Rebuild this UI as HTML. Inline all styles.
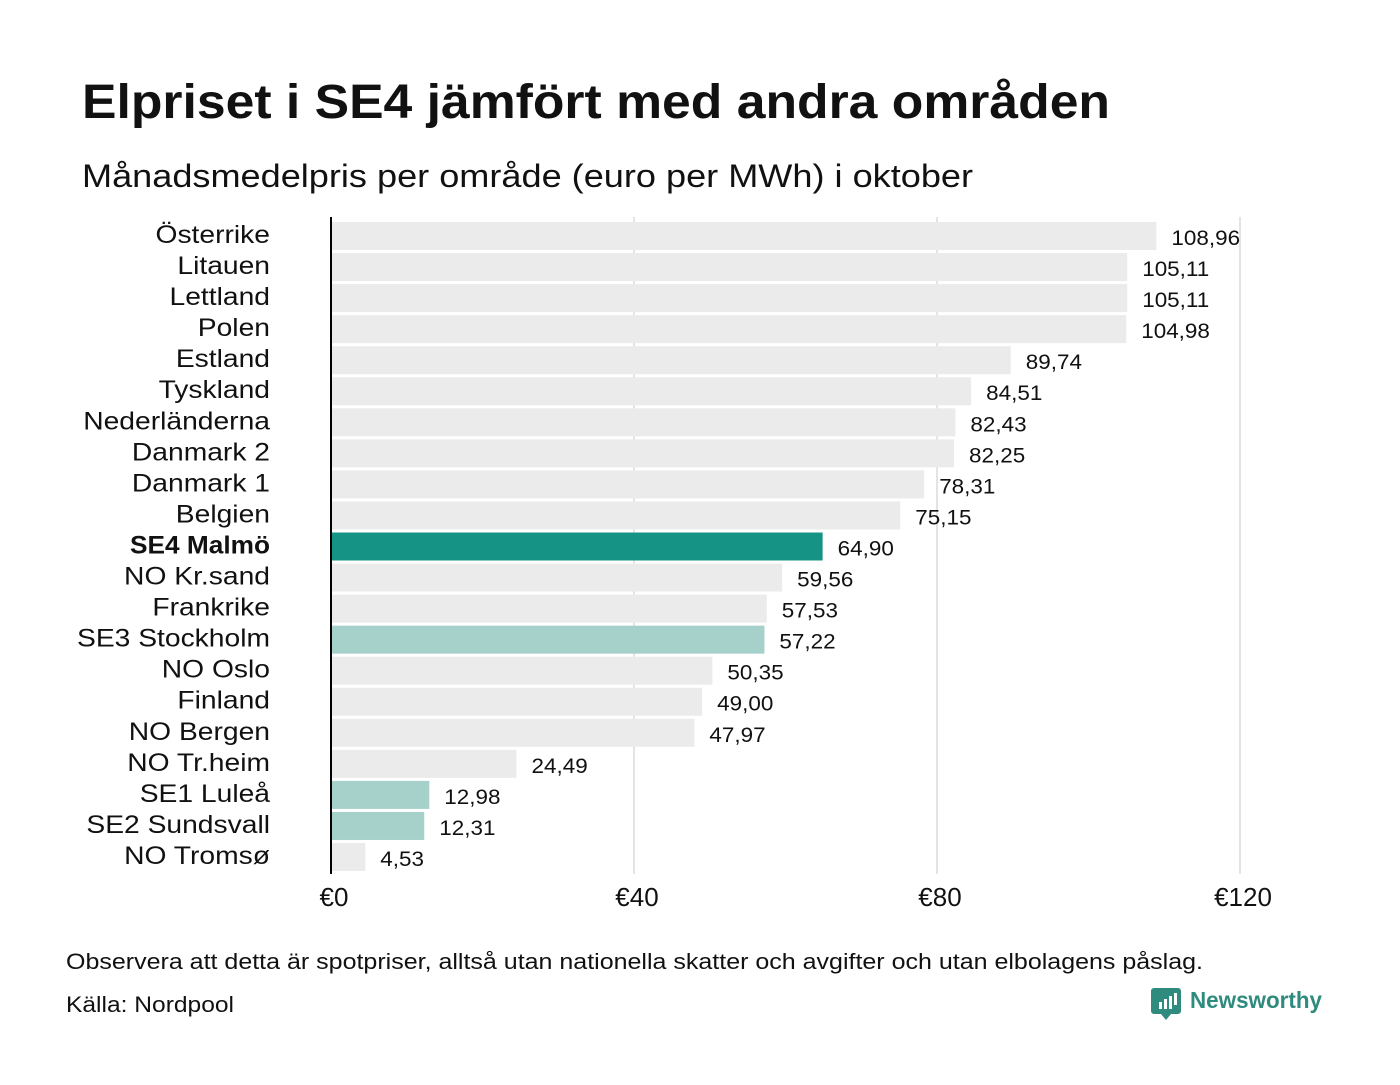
<!DOCTYPE html>
<html><head><meta charset="utf-8"><style>
body{margin:0;background:#fff;width:1400px;height:1080px;overflow:hidden;font-family:"Liberation Sans","DejaVu Sans",sans-serif;}
</style></head><body>
<svg width="1400" height="1080" xmlns="http://www.w3.org/2000/svg">
<text x="82" y="118" font-size="48" font-weight="bold" fill="#111" textLength="1028" lengthAdjust="spacingAndGlyphs">Elpriset i SE4 jämfört med andra områden</text>
<text x="82" y="187" font-size="32" fill="#111" textLength="891" lengthAdjust="spacingAndGlyphs">Månadsmedelpris per område (euro per MWh) i oktober</text>
<g id="grid"></g>
<g id="bars"></g>
<g id="labels"></g>
<line x1="331" y1="217" x2="331" y2="874" stroke="#000" stroke-width="2"/>
<g id="ticks"></g>
<text x="66" y="969" font-size="22" fill="#111" textLength="1137" lengthAdjust="spacingAndGlyphs">Observera att detta är spotpriser, alltså utan nationella skatter och avgifter och utan elbolagens påslag.</text>
<text x="66" y="1012" font-size="22" fill="#111" textLength="168" lengthAdjust="spacingAndGlyphs">Källa: Nordpool</text>
<g>
<path d="M1154 988 h24 a3 3 0 0 1 3 3 v20 a3 3 0 0 1 -3 3 h-7 l-5 6 l-5 -6 h-7 a3 3 0 0 1 -3 -3 v-20 a3 3 0 0 1 3 -3z" fill="#2e8b7e"/>
<rect x="1159" y="1002" width="3" height="7" fill="#fff"/><rect x="1164" y="999" width="3" height="10" fill="#fff"/><rect x="1169" y="996" width="3" height="13" fill="#fff"/><rect x="1174" y="993" width="3" height="12" fill="#fff"/>
<text x="1190" y="1008" font-size="23" font-weight="bold" fill="#2e8b7e" textLength="132" lengthAdjust="spacingAndGlyphs">Newsworthy</text>
</g>
</svg>
<script>
const categories=["Österrike","Litauen","Lettland","Polen","Estland","Tyskland","Nederländerna","Danmark  2","Danmark  1","Belgien","SE4 Malmö","NO Kr.sand","Frankrike","SE3  Stockholm","NO Oslo","Finland","NO Bergen","NO Tr.heim","SE1  Luleå","SE2  Sundsvall","NO Tromsø"];
const values=[108.96,105.11,105.11,104.98,89.74,84.51,82.43,82.25,78.31,75.15,64.90,59.56,57.53,57.22,50.35,49.00,47.97,24.49,12.98,12.31,4.53];
const tickValues=[0,40,80,120];
const tickLabels=["€0","€40","€80","€120"];
const NS="http://www.w3.org/2000/svg";
const x=v=>331+v*303/40;
const y=i=>222+i*31.05;
function mk(t,a,p){const e=document.createElementNS(NS,t);for(const k in a)e.setAttribute(k,a[k]);document.getElementById(p).appendChild(e);return e;}
tickValues.forEach((t,i)=>{
 if(t>0){const g=mk("line",{x1:x(t),x2:x(t),y1:217,y2:874,stroke:"#c8c8d0","stroke-width":1},"grid");
 
 }
 const tx=mk("text",{x:x(t)+3,y:906,"font-size":26,"text-anchor":"middle",fill:"#111"},"ticks");
 tx.textContent=tickLabels[i];
 
 
});
categories.forEach((c,i)=>{
 const col=c.startsWith("SE4")?"#159486":(c.startsWith("SE")?"#a6d0ca":"#ebebeb");
 const r=mk("rect",{x:331,y:y(i),width:x(values[i])-331,height:28,fill:col},"bars");
 
 
 const bold=c.startsWith("SE4");
 const l=mk("text",{x:270,y:y(i)+21,"font-size":25,"text-anchor":"end",fill:"#111",transform:`translate(270,0) scale(${bold?1.05:1.13},1) translate(-270,0)`,"xml:space":"preserve"},"labels");
 if(bold){l.setAttribute("font-weight","bold");}
 l.textContent=c;
 
 
 const vx=x(values[i])+15;
 const v=mk("text",{x:vx,y:y(i)+23,"font-size":21,fill:"#111",transform:`translate(${vx},0) scale(1.07,1) translate(${-vx},0)`},"labels");
 v.textContent=values[i].toFixed(2).replace(".",",");
 
 
});
</script>
</body></html>
